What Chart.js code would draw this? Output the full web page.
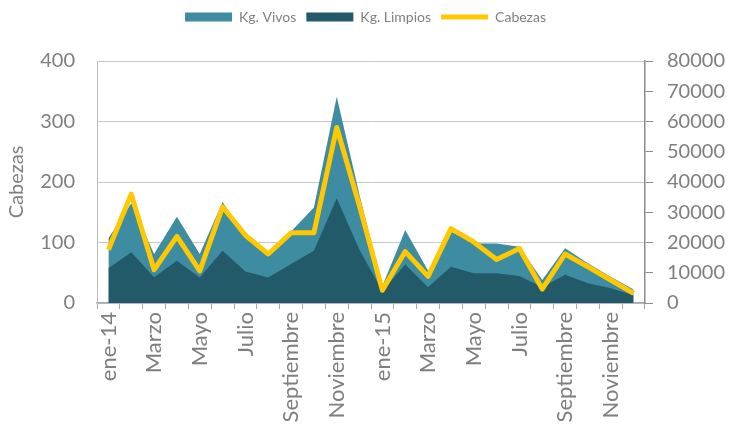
<!DOCTYPE html>
<html>
<head>
<meta charset="utf-8">
<script src="https://cdn.jsdelivr.net/npm/chart.js@4"></script>
<style>
  html, body { margin: 0; padding: 0; background: #fff; }
  #wrap { width: 731px; height: 435px; }
</style>
</head>
<body>
<div id="wrap"><canvas id="chart" width="731" height="435"></canvas></div>
<script>
// meses ene-14 .. dic-15
const meses = ['ene-14', 'Febrero', 'Marzo', 'Abril', 'Mayo', 'Junio', 'Julio', 'Agosto',
    'Septiembre', 'Octubre', 'Noviembre', 'Diciembre',
    'ene-15', 'Febrero', 'Marzo', 'Abril', 'Mayo', 'Junio', 'Julio', 'Agosto',
    'Septiembre', 'Octubre', 'Noviembre', 'Diciembre'];
const kgVivos = [21400, 33000, 16200, 28500, 16200, 33400, 21900, 16200, 23600, 31600, 68200, 35600,
    5600, 24100, 10700, 23600, 19700, 19700, 18600, 7600, 18100, 13100, 8700, 4500];
const kgLimpios = [11500, 16800, 8500, 14000, 8400, 17300, 10400, 8400, 12900, 17300, 34600, 17500,
    4000, 12700, 5200, 12000, 9800, 9800, 8900, 5200, 9300, 6500, 4900, 2600];
const cabezas = [88, 180, 55, 110, 53, 159, 112, 81, 116, 116, 290, 160,
    21, 85, 44, 123, 101, 72, 90, 23, 81, 60, 38, 16];
const ticksCabezas = [0, 400, 100];
const ticksKg = [0, 80000, 10000];

const gris = '#7f7f7f';
const fuente = 'Lato, "Open Sans", sans-serif';

// espacio extra debajo de la leyenda
const margenLeyenda = {
    id: 'margenLeyenda',
    beforeInit(chart) {
        const fitOriginal = chart.legend.fit;
        chart.legend.fit = function() {
            fitOriginal.bind(chart.legend)();
            this.height += 27;
        };
    }
};

document.addEventListener('DOMContentLoaded', function() {
    const ctx = document.getElementById('chart').getContext('2d');
    new Chart(ctx, {
        type: 'line',
        data: {
            labels: meses,
            datasets: [{
                label: 'Kg. Vivos',
                data: kgVivos,
                yAxisID: 'y1',
                backgroundColor: '#3d8ca1',
                borderColor: '#3d8ca1',
                borderWidth: 0,
                fill: 'origin',
                pointRadius: 0,
                pointStyle: 'rect',
                order: 3
            }, {
                label: 'Kg. Limpios',
                data: kgLimpios,
                yAxisID: 'y1',
                backgroundColor: '#225a69',
                borderColor: '#225a69',
                borderWidth: 0,
                fill: 'origin',
                pointRadius: 0,
                pointStyle: 'rect',
                order: 2
            }, {
                label: 'Cabezas',
                data: cabezas,
                yAxisID: 'y',
                borderColor: '#ffc800',
                backgroundColor: '#ffc800',
                borderWidth: 5,
                borderJoinStyle: 'round',
                borderCapStyle: 'butt',
                fill: false,
                pointRadius: 0,
                pointStyle: 'line',
                order: 1
            }]
        },
        plugins: [margenLeyenda],
        options: {
            responsive: false,
            animation: false,
            plugins: {
                legend: {
                    position: 'top',
                    labels: {
                        usePointStyle: true,
                        pointStyleWidth: 47,
                        boxHeight: 9,
                        padding: 10,
                        color: gris,
                        font: { family: fuente, size: 14 },
                        sort: (a, b) => a.datasetIndex - b.datasetIndex
                    }
                },
                tooltip: { enabled: false }
            },
            scales: {
                x: {
                    offset: true,
                    grid: {
                        offset: true,
                        drawOnChartArea: false,
                        tickLength: 6,
                        color: '#a6a6a6'
                    },
                    border: { color: '#a6a6a6', width: 1.5 },
                    ticks: {
                        autoSkip: false,
                        maxRotation: 90,
                        minRotation: 90,
                        padding: 3,
                        color: gris,
                        font: { family: fuente, size: 22 },
                        callback: function(value, index) {
                            return index % 2 === 0 ? this.getLabelForValue(value) : '';
                        }
                    },
                    afterFit: function(scale) { scale.height = 132; }
                },
                y: {
                    position: 'left',
                    min: ticksCabezas[0],
                    max: ticksCabezas[1],
                    ticks: {
                        stepSize: ticksCabezas[2],
                        padding: 22,
                        color: gris,
                        font: { family: fuente, size: 20 }
                    },
                    grid: { color: '#c8c8c8', drawTicks: false },
                    border: { color: '#bfbfbf' },
                    title: {
                        display: true,
                        text: 'Cabezas',
                        color: gris,
                        font: { family: fuente, size: 20 },
                        padding: { top: 5, bottom: 0 }
                    },
                    afterFit: function(scale) { scale.width = 97; }
                },
                y1: {
                    position: 'right',
                    min: ticksKg[0],
                    max: ticksKg[1],
                    ticks: {
                        stepSize: ticksKg[2],
                        padding: 14,
                        color: gris,
                        font: { family: fuente, size: 20 },
                        callback: value => String(value)
                    },
                    grid: { drawOnChartArea: false, tickLength: 8, color: '#8c8c8c' },
                    border: { color: '#8c8c8c', width: 1.5 },
                    afterFit: function(scale) { scale.width = 86; }
                }
            }
        }
    });
});
</script>
</body>
</html>
